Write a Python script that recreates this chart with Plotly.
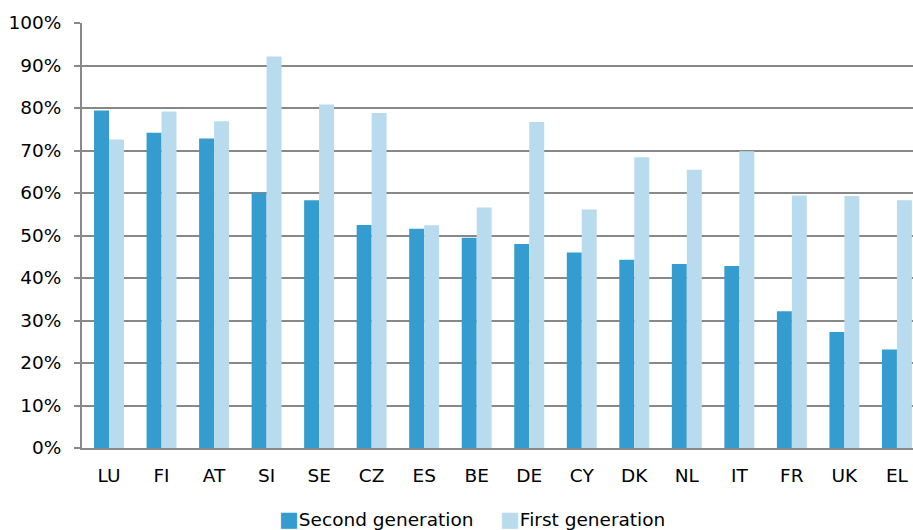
import plotly.graph_objects as go

countries = ["LU", "FI", "AT", "SI", "SE", "CZ", "ES", "BE", "DE", "CY", "DK", "NL", "IT", "FR", "UK", "EL"]
second_gen = [79.4, 74.2, 72.8, 60.0, 58.3, 52.5, 51.6, 49.5, 48.0, 46.0, 44.3, 43.3, 42.8, 32.2, 27.3, 23.2]
first_gen = [72.6, 79.2, 76.9, 92.1, 80.8, 78.8, 52.4, 56.6, 76.7, 56.1, 68.4, 65.5, 69.8, 59.4, 59.3, 58.3]
y_ticks = [0, 10, 20, 30, 40, 50, 60, 70, 80, 90, 100]
series_names = ["Second generation", "First generation"]
series_colors = ["#359CCF", "#B8DCEE"]

font = "DejaVu Sans, Verdana, sans-serif"
fsize = 18.5

fig = go.Figure()
fig.add_trace(go.Bar(x=countries, y=second_gen, name=series_names[0],
                     marker=dict(color=series_colors[0], line=dict(width=0))))
fig.add_trace(go.Bar(x=countries, y=first_gen, name=series_names[1],
                     marker=dict(color=series_colors[1], line=dict(width=0))))

# legend drawn as text with coloured squares
legend_x = [0.235, 0.501]
for name, col, lx in zip(series_names, series_colors, legend_x):
    fig.add_annotation(
        xref="paper", yref="paper", x=lx, y=-0.168, xanchor="left", yanchor="middle",
        text=f'<span style="color:{col};font-size:21px">■</span>{name}', showarrow=False,
        font=dict(family=font, size=fsize, color="#000000"),
    )

fig.update_layout(
    width=913, height=530,
    margin=dict(l=82, r=0, t=23, b=82, autoexpand=False),
    paper_bgcolor="white", plot_bgcolor="white",
    barmode="group", bargap=0.43, bargroupgap=0,
    font=dict(family=font, size=fsize, color="#000000"),
    showlegend=False,
    xaxis=dict(showline=True, linecolor="#888888", linewidth=2, ticks="",
               range=[-0.514, 15.306],
               tickfont=dict(size=fsize), showgrid=False, automargin=False,
               ticklabelstandoff=10),
    yaxis=dict(range=[0, 100], tickvals=y_ticks, ticktext=[f"{v}%" for v in y_ticks],
               showgrid=True, gridcolor="#888888", gridwidth=2,
               showline=True, linecolor="#888888", linewidth=2,
               ticks="outside", ticklen=6, tickcolor="#888888", tickwidth=2,
               tickfont=dict(size=fsize), zeroline=False, automargin=False,
               ticklabelstandoff=9),
)

fig.write_html("out.html", config={"displayModeBar": False},
               post_script="document.body.style.margin='0';document.body.style.padding='0';")
